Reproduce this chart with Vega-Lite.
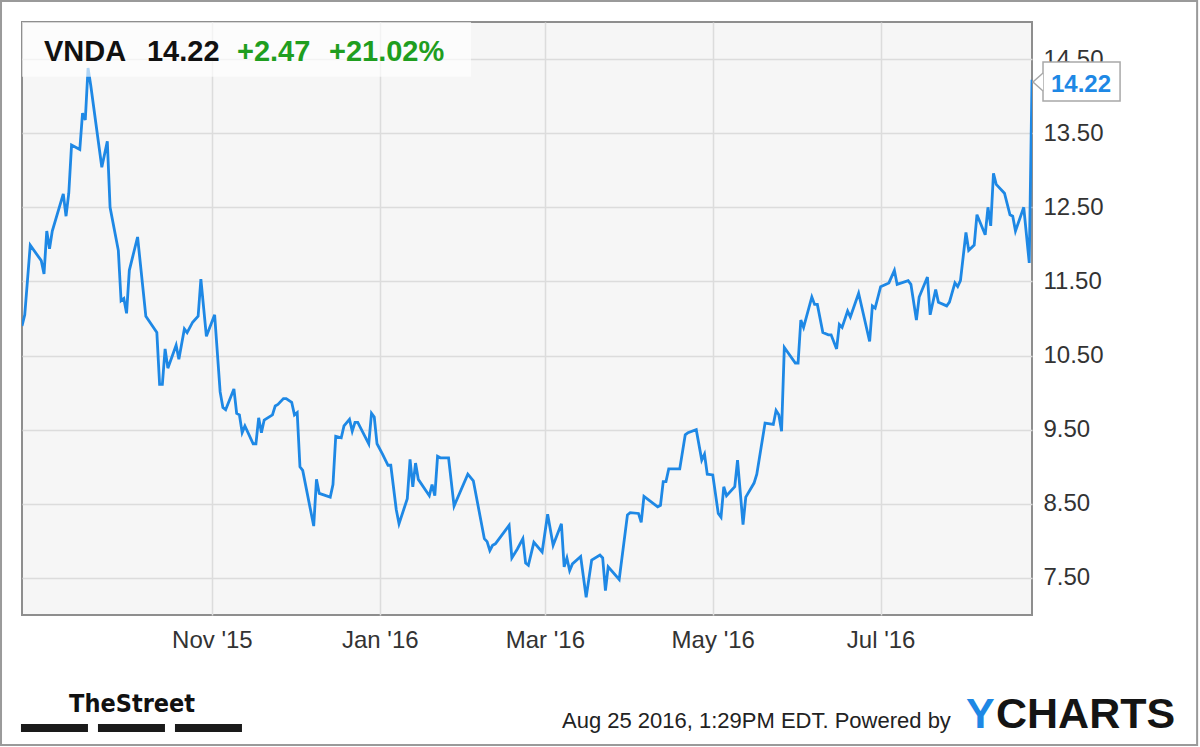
{
  "$schema": "https://vega.github.io/schema/vega-lite/v6.json",
  "width": 1010,
  "height": 593,
  "autosize": {"type": "none"},
  "padding": {"left": 22, "top": 22, "right": 168, "bottom": 132},
  "background": "#ffffff",
  "config": {
    "font": "Liberation Sans",
    "view": {"fill": "#f6f6f6", "stroke": "#8e8e8e", "strokeWidth": 2}
  },
  "layer": [
    {
      "data": {
        "values": [
          {"date": "2015-08-24", "price": 10.90}, {"date": "2015-08-25", "price": 11.05}, {"date": "2015-08-27", "price": 11.99},
          {"date": "2015-08-31", "price": 11.78}, {"date": "2015-09-01", "price": 11.60}, {"date": "2015-09-02", "price": 12.18},
          {"date": "2015-09-03", "price": 11.94}, {"date": "2015-09-04", "price": 12.18}, {"date": "2015-09-08", "price": 12.68},
          {"date": "2015-09-09", "price": 12.38}, {"date": "2015-09-10", "price": 12.69}, {"date": "2015-09-11", "price": 13.34},
          {"date": "2015-09-14", "price": 13.28}, {"date": "2015-09-15", "price": 13.77}, {"date": "2015-09-16", "price": 13.68},
          {"date": "2015-09-17", "price": 14.38}, {"date": "2015-09-18", "price": 14.14}, {"date": "2015-09-22", "price": 13.04},
          {"date": "2015-09-24", "price": 13.39}, {"date": "2015-09-25", "price": 12.50}, {"date": "2015-09-28", "price": 11.92},
          {"date": "2015-09-29", "price": 11.24}, {"date": "2015-09-30", "price": 11.27}, {"date": "2015-10-01", "price": 11.07},
          {"date": "2015-10-02", "price": 11.65}, {"date": "2015-10-05", "price": 12.10}, {"date": "2015-10-08", "price": 11.03},
          {"date": "2015-10-12", "price": 10.81}, {"date": "2015-10-13", "price": 10.11}, {"date": "2015-10-14", "price": 10.11},
          {"date": "2015-10-15", "price": 10.59}, {"date": "2015-10-16", "price": 10.33}, {"date": "2015-10-19", "price": 10.64},
          {"date": "2015-10-20", "price": 10.45}, {"date": "2015-10-22", "price": 10.86}, {"date": "2015-10-23", "price": 10.81},
          {"date": "2015-10-25", "price": 10.95}, {"date": "2015-10-27", "price": 11.03}, {"date": "2015-10-28", "price": 11.53},
          {"date": "2015-10-30", "price": 10.76}, {"date": "2015-11-02", "price": 11.05}, {"date": "2015-11-04", "price": 10.01},
          {"date": "2015-11-05", "price": 9.80}, {"date": "2015-11-06", "price": 9.77}, {"date": "2015-11-09", "price": 10.05},
          {"date": "2015-11-10", "price": 9.72}, {"date": "2015-11-11", "price": 9.70}, {"date": "2015-11-12", "price": 9.46},
          {"date": "2015-11-13", "price": 9.55}, {"date": "2015-11-16", "price": 9.31}, {"date": "2015-11-17", "price": 9.31},
          {"date": "2015-11-18", "price": 9.66}, {"date": "2015-11-19", "price": 9.46}, {"date": "2015-11-20", "price": 9.63},
          {"date": "2015-11-23", "price": 9.70}, {"date": "2015-11-24", "price": 9.82}, {"date": "2015-11-25", "price": 9.84},
          {"date": "2015-11-27", "price": 9.92}, {"date": "2015-11-28", "price": 9.92}, {"date": "2015-11-30", "price": 9.87},
          {"date": "2015-12-01", "price": 9.70}, {"date": "2015-12-02", "price": 9.73}, {"date": "2015-12-03", "price": 9.00},
          {"date": "2015-12-04", "price": 8.95}, {"date": "2015-12-08", "price": 8.20}, {"date": "2015-12-09", "price": 8.83},
          {"date": "2015-12-10", "price": 8.64}, {"date": "2015-12-14", "price": 8.59}, {"date": "2015-12-15", "price": 8.76},
          {"date": "2015-12-16", "price": 9.41}, {"date": "2015-12-18", "price": 9.39}, {"date": "2015-12-19", "price": 9.55},
          {"date": "2015-12-21", "price": 9.64}, {"date": "2015-12-22", "price": 9.48}, {"date": "2015-12-23", "price": 9.60},
          {"date": "2015-12-24", "price": 9.60}, {"date": "2015-12-28", "price": 9.31}, {"date": "2015-12-29", "price": 9.72},
          {"date": "2015-12-30", "price": 9.67}, {"date": "2015-12-31", "price": 9.31}, {"date": "2016-01-02", "price": 9.17},
          {"date": "2016-01-04", "price": 9.02}, {"date": "2016-01-05", "price": 9.02}, {"date": "2016-01-07", "price": 8.42},
          {"date": "2016-01-08", "price": 8.23}, {"date": "2016-01-11", "price": 8.57}, {"date": "2016-01-12", "price": 9.10},
          {"date": "2016-01-13", "price": 8.73}, {"date": "2016-01-14", "price": 9.05}, {"date": "2016-01-15", "price": 8.83},
          {"date": "2016-01-19", "price": 8.61}, {"date": "2016-01-20", "price": 8.76}, {"date": "2016-01-21", "price": 8.61},
          {"date": "2016-01-22", "price": 9.14}, {"date": "2016-01-23", "price": 9.12}, {"date": "2016-01-26", "price": 9.12},
          {"date": "2016-01-28", "price": 8.47}, {"date": "2016-02-02", "price": 8.90}, {"date": "2016-02-04", "price": 8.81},
          {"date": "2016-02-08", "price": 8.03}, {"date": "2016-02-09", "price": 7.99}, {"date": "2016-02-10", "price": 7.87},
          {"date": "2016-02-11", "price": 7.94}, {"date": "2016-02-12", "price": 7.96}, {"date": "2016-02-17", "price": 8.21},
          {"date": "2016-02-18", "price": 7.77}, {"date": "2016-02-20", "price": 7.89}, {"date": "2016-02-22", "price": 8.03},
          {"date": "2016-02-23", "price": 7.70}, {"date": "2016-02-24", "price": 7.67}, {"date": "2016-02-26", "price": 7.98},
          {"date": "2016-02-29", "price": 7.85}, {"date": "2016-03-02", "price": 8.36}, {"date": "2016-03-04", "price": 7.94},
          {"date": "2016-03-07", "price": 8.23}, {"date": "2016-03-08", "price": 7.65}, {"date": "2016-03-09", "price": 7.77},
          {"date": "2016-03-10", "price": 7.60}, {"date": "2016-03-11", "price": 7.69}, {"date": "2016-03-14", "price": 7.79},
          {"date": "2016-03-16", "price": 7.24}, {"date": "2016-03-18", "price": 7.74}, {"date": "2016-03-21", "price": 7.81},
          {"date": "2016-03-22", "price": 7.77}, {"date": "2016-03-23", "price": 7.33}, {"date": "2016-03-24", "price": 7.65},
          {"date": "2016-03-28", "price": 7.48}, {"date": "2016-03-31", "price": 8.35}, {"date": "2016-04-01", "price": 8.38},
          {"date": "2016-04-04", "price": 8.37}, {"date": "2016-04-05", "price": 8.25}, {"date": "2016-04-06", "price": 8.60},
          {"date": "2016-04-11", "price": 8.46}, {"date": "2016-04-12", "price": 8.48}, {"date": "2016-04-13", "price": 8.80},
          {"date": "2016-04-14", "price": 8.80}, {"date": "2016-04-15", "price": 8.97}, {"date": "2016-04-19", "price": 8.97},
          {"date": "2016-04-21", "price": 9.43}, {"date": "2016-04-22", "price": 9.46}, {"date": "2016-04-25", "price": 9.50},
          {"date": "2016-04-27", "price": 9.09}, {"date": "2016-04-28", "price": 9.17}, {"date": "2016-04-29", "price": 8.90},
          {"date": "2016-05-01", "price": 8.89}, {"date": "2016-05-03", "price": 8.37}, {"date": "2016-05-04", "price": 8.32},
          {"date": "2016-05-05", "price": 8.73}, {"date": "2016-05-06", "price": 8.61}, {"date": "2016-05-09", "price": 8.73},
          {"date": "2016-05-10", "price": 9.09}, {"date": "2016-05-12", "price": 8.22}, {"date": "2016-05-13", "price": 8.59},
          {"date": "2016-05-16", "price": 8.78}, {"date": "2016-05-17", "price": 8.90}, {"date": "2016-05-20", "price": 9.59},
          {"date": "2016-05-23", "price": 9.57}, {"date": "2016-05-24", "price": 9.76}, {"date": "2016-05-25", "price": 9.70},
          {"date": "2016-05-26", "price": 9.48}, {"date": "2016-05-27", "price": 10.61}, {"date": "2016-05-31", "price": 10.40},
          {"date": "2016-06-01", "price": 10.40}, {"date": "2016-06-02", "price": 10.98}, {"date": "2016-06-03", "price": 10.88},
          {"date": "2016-06-06", "price": 11.29}, {"date": "2016-06-07", "price": 11.19}, {"date": "2016-06-08", "price": 11.19},
          {"date": "2016-06-10", "price": 10.81}, {"date": "2016-06-12", "price": 10.78}, {"date": "2016-06-13", "price": 10.78},
          {"date": "2016-06-15", "price": 10.59}, {"date": "2016-06-16", "price": 10.92}, {"date": "2016-06-17", "price": 10.88},
          {"date": "2016-06-19", "price": 11.10}, {"date": "2016-06-20", "price": 11.02}, {"date": "2016-06-23", "price": 11.34},
          {"date": "2016-06-27", "price": 10.69}, {"date": "2016-06-28", "price": 11.17}, {"date": "2016-06-29", "price": 11.14},
          {"date": "2016-07-01", "price": 11.43}, {"date": "2016-07-04", "price": 11.48}, {"date": "2016-07-06", "price": 11.65},
          {"date": "2016-07-07", "price": 11.46}, {"date": "2016-07-11", "price": 11.51}, {"date": "2016-07-12", "price": 11.46},
          {"date": "2016-07-14", "price": 10.98}, {"date": "2016-07-15", "price": 11.29}, {"date": "2016-07-18", "price": 11.56},
          {"date": "2016-07-19", "price": 11.05}, {"date": "2016-07-21", "price": 11.39}, {"date": "2016-07-22", "price": 11.22},
          {"date": "2016-07-25", "price": 11.17}, {"date": "2016-07-26", "price": 11.22}, {"date": "2016-07-28", "price": 11.48},
          {"date": "2016-07-29", "price": 11.43}, {"date": "2016-07-30", "price": 11.51}, {"date": "2016-08-01", "price": 12.16},
          {"date": "2016-08-02", "price": 11.92}, {"date": "2016-08-04", "price": 11.99}, {"date": "2016-08-05", "price": 12.40},
          {"date": "2016-08-08", "price": 12.13}, {"date": "2016-08-09", "price": 12.50}, {"date": "2016-08-10", "price": 12.25},
          {"date": "2016-08-11", "price": 12.96}, {"date": "2016-08-12", "price": 12.81}, {"date": "2016-08-15", "price": 12.69},
          {"date": "2016-08-17", "price": 12.40}, {"date": "2016-08-18", "price": 12.38}, {"date": "2016-08-19", "price": 12.18},
          {"date": "2016-08-22", "price": 12.50}, {"date": "2016-08-24", "price": 11.75}, {"date": "2016-08-25", "price": 14.22}
        ],
        "format": {"parse": {"date": "date:'%Y-%m-%d'"}}
      },
      "mark": {"type": "line", "color": "#1e88e5", "strokeWidth": 2.8, "clip": true},
      "encoding": {
        "x": {
          "field": "date", "type": "temporal",
          "scale": {"domain": [{"year": 2015, "month": 8, "date": 24}, {"year": 2016, "month": 8, "date": 25}], "nice": false},
          "axis": {
            "title": null,
            "values": [{"year": 2015, "month": 11, "date": 1}, {"year": 2016, "month": 1, "date": 1}, {"year": 2016, "month": 3, "date": 1}, {"year": 2016, "month": 5, "date": 1}, {"year": 2016, "month": 7, "date": 1}],
            "format": "%b '%y",
            "labelFontSize": 24, "labelColor": "#333333", "labelPadding": 13,
            "ticks": false, "domain": false,
            "grid": true, "gridColor": "#dcdcdc", "gridWidth": 1.5,
            "labelOverlap": false, "labelFlush": false
          }
        },
        "y": {
          "field": "price", "type": "quantitative",
          "scale": {"domain": [7, 15], "nice": false, "zero": false},
          "axis": {
            "title": null, "orient": "right",
            "values": [7.5, 8.5, 9.5, 10.5, 11.5, 12.5, 13.5, 14.5],
            "format": ".2f",
            "labelFontSize": 24, "labelColor": "#333333", "labelPadding": 11,
            "ticks": false, "domain": false,
            "grid": true, "gridColor": "#dcdcdc", "gridWidth": 1.5,
            "labelOverlap": false, "labelFlush": false
          }
        }
      }
    },
    {
      "data": {"values": [{}]},
      "mark": {"type": "rect", "fill": "#ffffff", "fillOpacity": 0.65},
      "encoding": {
        "x": {"datum": {"year": 2015, "month": 8, "date": 24}, "type": "temporal"},
        "x2": {"datum": {"year": 2016, "month": 2, "date": 3, "hours": 4}},
        "y": {"datum": 15, "type": "quantitative"},
        "y2": {"datum": 14.262}
      }
    },
    {
      "data": {"values": [{}]},
      "mark": {"type": "text", "text": "VNDA", "align": "left", "baseline": "alphabetic", "fontSize": 29, "fontWeight": "bold", "color": "#111111"},
      "encoding": {
        "x": {"datum": {"year": 2015, "month": 9, "date": 1}, "type": "temporal"},
        "y": {"datum": 14.474, "type": "quantitative"}
      }
    },
    {
      "data": {"values": [{}]},
      "mark": {"type": "text", "text": "14.22", "align": "left", "baseline": "alphabetic", "fontSize": 29, "fontWeight": "bold", "color": "#111111"},
      "encoding": {
        "x": {"datum": {"year": 2015, "month": 10, "date": 8, "hours": 10}, "type": "temporal"},
        "y": {"datum": 14.474, "type": "quantitative"}
      }
    },
    {
      "data": {"values": [{}]},
      "mark": {"type": "text", "text": "+2.47", "align": "left", "baseline": "alphabetic", "fontSize": 29, "fontWeight": "bold", "color": "#1f9e1f"},
      "encoding": {
        "x": {"datum": {"year": 2015, "month": 11, "date": 10, "hours": 3}, "type": "temporal"},
        "y": {"datum": 14.474, "type": "quantitative"}
      }
    },
    {
      "data": {"values": [{}]},
      "mark": {"type": "text", "text": "+21.02%", "align": "left", "baseline": "alphabetic", "fontSize": 29, "fontWeight": "bold", "color": "#1f9e1f"},
      "encoding": {
        "x": {"datum": {"year": 2015, "month": 12, "date": 13, "hours": 13}, "type": "temporal"},
        "y": {"datum": 14.474, "type": "quantitative"}
      }
    },
    {
      "data": {"values": [{}]},
      "mark": {"type": "rect", "fill": "#ffffff", "stroke": "#a8a8a8", "strokeWidth": 1.5},
      "encoding": {
        "x": {"datum": {"year": 2016, "month": 8, "date": 29}, "type": "temporal"},
        "x2": {"datum": {"year": 2016, "month": 9, "date": 26}},
        "y": {"datum": 14.46, "type": "quantitative"},
        "y2": {"datum": 13.934}
      }
    },
    {
      "data": {"values": [{}]},
      "mark": {"type": "point", "shape": "M0.12,-1L-1,0L0.12,1", "size": 324, "filled": true, "fill": "#ffffff", "stroke": "#a8a8a8", "strokeWidth": 1.5, "opacity": 1},
      "encoding": {
        "x": {"datum": {"year": 2016, "month": 8, "date": 28, "hours": 15}, "type": "temporal"},
        "y": {"datum": 14.19, "type": "quantitative"}
      }
    },
    {
      "data": {"values": [{}]},
      "mark": {"type": "text", "text": "14.22", "align": "center", "baseline": "alphabetic", "fontSize": 24, "fontWeight": "bold", "color": "#1e88e5"},
      "encoding": {
        "x": {"datum": {"year": 2016, "month": 9, "date": 11, "hours": 19}, "type": "temporal"},
        "y": {"datum": 14.056, "type": "quantitative"}
      }
    },
    {
      "data": {"values": [{}]},
      "mark": {"type": "text", "text": "TheStreet", "align": "center", "baseline": "alphabetic", "fontSize": 25, "fontWeight": "bold", "font": "DejaVu Sans Condensed, Liberation Sans, sans-serif", "color": "#111111"},
      "encoding": {
        "x": {"datum": {"year": 2015, "month": 10, "date": 3}, "type": "temporal"},
        "y": {"datum": 5.691, "type": "quantitative"}
      }
    },
    {
      "data": {"values": [{}]},
      "mark": {"type": "rule", "color": "#1a1a1a", "strokeWidth": 8, "strokeDash": [67, 10], "strokeCap": "butt"},
      "encoding": {
        "x": {"datum": {"year": 2015, "month": 8, "date": 23, "hours": 15}, "type": "temporal"},
        "x2": {"datum": {"year": 2015, "month": 11, "date": 11, "hours": 23}},
        "y": {"datum": 5.475, "type": "quantitative"}
      }
    },
    {
      "data": {"values": [{}]},
      "mark": {"type": "text", "text": "Aug 25 2016, 1:29PM EDT.  Powered by", "align": "left", "baseline": "alphabetic", "fontSize": 22, "color": "#222222"},
      "encoding": {
        "x": {"datum": {"year": 2016, "month": 3, "date": 7, "hours": 5}, "type": "temporal"},
        "y": {"datum": 5.475, "type": "quantitative"}
      }
    },
    {
      "data": {"values": [{}]},
      "mark": {"type": "text", "text": "Y", "align": "left", "baseline": "alphabetic", "fontSize": 43, "fontWeight": "bold", "color": "#1e88e5"},
      "encoding": {
        "x": {"datum": {"year": 2016, "month": 8, "date": 1}, "type": "temporal"},
        "y": {"datum": 5.475, "type": "quantitative"}
      }
    },
    {
      "data": {"values": [{}]},
      "mark": {"type": "text", "text": "CHARTS", "align": "left", "baseline": "alphabetic", "fontSize": 43, "fontWeight": "bold", "color": "#141414"},
      "encoding": {
        "x": {"datum": {"year": 2016, "month": 8, "date": 11, "hours": 22}, "type": "temporal"},
        "y": {"datum": 5.475, "type": "quantitative"}
      }
    },
    {
      "data": {"values": [{}]},
      "mark": {"type": "rect", "filled": false, "fill": null, "stroke": "#9a9a9a", "strokeWidth": 2},
      "encoding": {
        "x": {"datum": {"year": 2015, "month": 8, "date": 16, "hours": 9}, "type": "temporal"},
        "x2": {"datum": {"year": 2016, "month": 10, "date": 24}},
        "y": {"datum": 15.283, "type": "quantitative"},
        "y2": {"datum": 5.246}
      }
    }
  ]
}
